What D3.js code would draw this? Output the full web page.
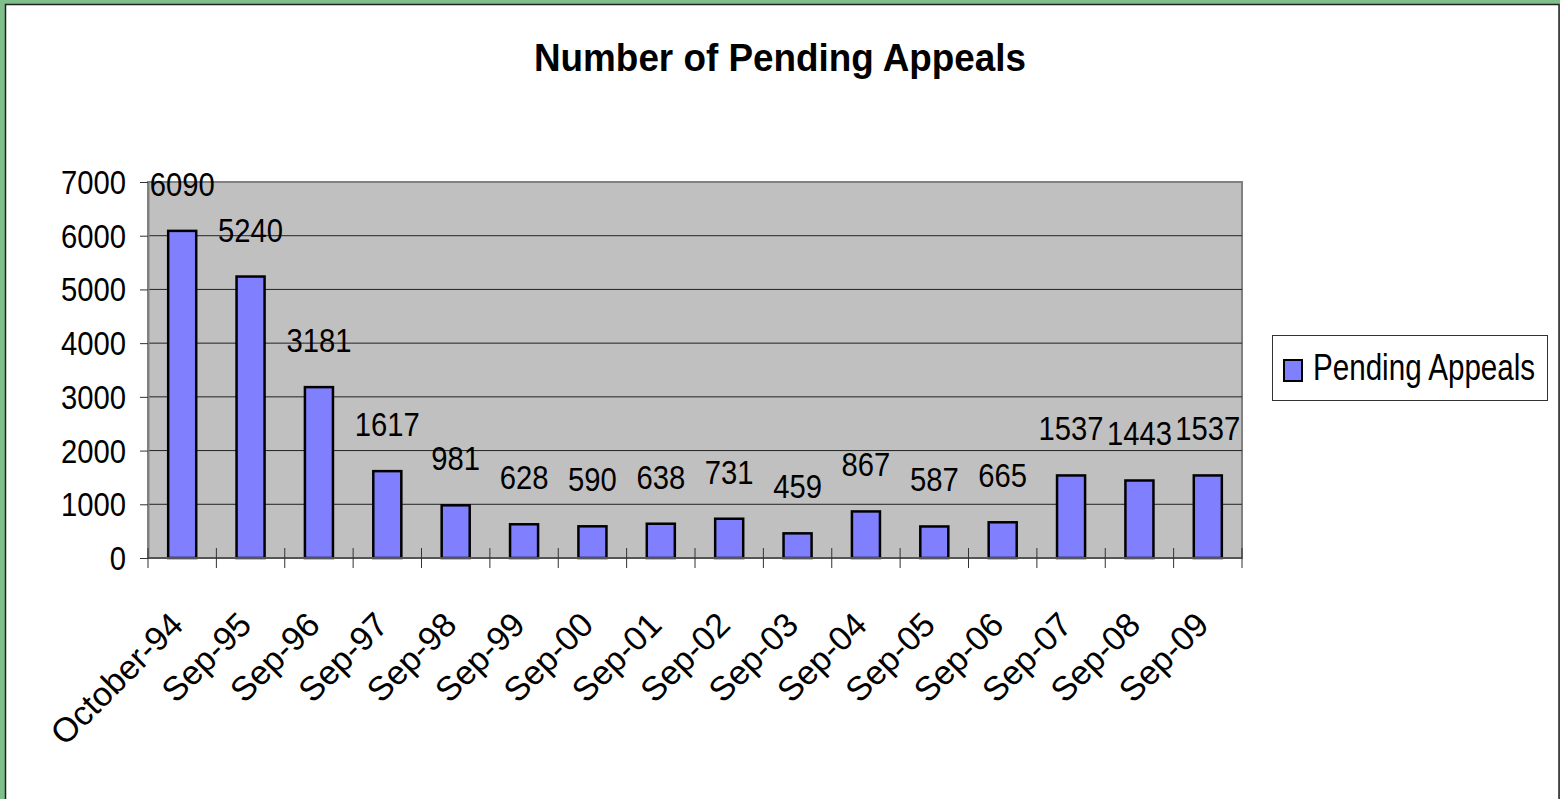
<!DOCTYPE html>
<html>
<head>
<meta charset="utf-8">
<script src="https://cdn.jsdelivr.net/npm/d3@7"></script>
<style>
  body { margin: 0; background: #fff; }
  svg { display: block; }
  text { font-family: "Liberation Sans", Arial, sans-serif; fill: #000; }
</style>
</head>
<body>
<div id="chart"></div>
<script>
// data
let categories = ["October-94", "Sep-95", "Sep-96", "Sep-97", "Sep-98", "Sep-99", "Sep-00", "Sep-01",
    "Sep-02", "Sep-03", "Sep-04", "Sep-05", "Sep-06", "Sep-07", "Sep-08", "Sep-09"];
let pending = [6090, 5240, 3181, 1617, 981, 628, 590, 638, 731, 459, 867, 587, 665, 1537, 1443, 1537];
let yTicks = [0, 1000, 2000, 3000, 4000, 5000, 6000, 7000];
let seriesName = "Pending Appeals";
let chartTitle = "Number of Pending Appeals";

let W = 1560, H = 799;
let plot = {left: 148, right: 1242, top: 182, bottom: 558};
let squeeze = 0.86;   // the text in the picture is a bit narrow

let svg = d3.select("#chart").append("svg")
    .attr("width", W)
    .attr("height", H);

// green frame + white chart area
svg.append("rect").attr("x", 0).attr("y", 0).attr("width", W).attr("height", H).attr("fill", "#7fbf8c");
svg.append("rect")
    .attr("x", 5.5).attr("y", 4.5)
    .attr("width", 1553.5).attr("height", H + 20)
    .attr("fill", "#fff")
    .attr("stroke", "#222")
    .attr("stroke-width", 1.5);

// squeezed text helper
function label(g, x, y, txt, anchor, size, sx, weight) {
    return g.append("text")
        .attr("transform", "translate(" + x + "," + y + ") scale(" + sx + ",1)")
        .attr("text-anchor", anchor)
        .style("font-size", size + "px")
        .style("font-weight", weight || "normal")
        .text(txt);
}

label(svg, 780, 70.5, chartTitle, "middle", 38, 0.97, "bold");

let x = d3.scaleBand()
    .domain(categories)
    .range([plot.left, plot.right])
    .paddingInner(0.59)
    .paddingOuter(0.295);

let y = d3.scaleLinear()
    .domain([0, 7000])
    .range([plot.bottom, plot.top]);

// plot area
svg.append("rect")
    .attr("x", plot.left).attr("y", plot.top)
    .attr("width", plot.right - plot.left).attr("height", plot.bottom - plot.top)
    .attr("fill", "#c0c0c0")
    .attr("stroke", "#808080")
    .attr("stroke-width", 2);

// gridlines
svg.append("g").selectAll("line")
    .data(yTicks.filter(d => d > 0 && d < 7000))
    .enter().append("line")
    .attr("x1", plot.left).attr("x2", plot.right)
    .attr("y1", d => y(d)).attr("y2", d => y(d))
    .attr("stroke", "#222")
    .attr("stroke-width", 1);

// y axis
let yAxis = svg.append("g")
    .attr("transform", "translate(" + plot.left + ",0)")
    .call(d3.axisLeft(y).tickValues(yTicks).tickSize(8).tickSizeOuter(0).tickFormat(""));
yAxis.select(".domain").attr("stroke", "#808080").attr("stroke-width", 2);
yAxis.selectAll(".tick line").attr("stroke", "#333");

let yLabels = svg.append("g");
yTicks.forEach(function (t) {
    label(yLabels, 126, y(t) + 12, t, "end", 34, squeeze);
});

// bars
svg.append("g").selectAll("rect")
    .data(pending)
    .enter().append("rect")
    .attr("x", (d, i) => x(categories[i]))
    .attr("y", d => y(d))
    .attr("width", x.bandwidth())
    .attr("height", d => y(0) - y(d))
    .attr("fill", "#8080ff")
    .attr("stroke", "#000")
    .attr("stroke-width", 2.5);

// x axis line and ticks at category boundaries
svg.append("line")
    .attr("x1", plot.left).attr("x2", plot.right)
    .attr("y1", plot.bottom).attr("y2", plot.bottom)
    .attr("stroke", "#555")
    .attr("stroke-width", 2);

let gap = (x.step() - x.bandwidth()) / 2;
let bounds = categories.map(c => x(c) - gap).concat([plot.right]);
svg.append("g").selectAll("line")
    .data(bounds)
    .enter().append("line")
    .attr("x1", d => d).attr("x2", d => d)
    .attr("y1", plot.bottom - 10).attr("y2", plot.bottom + 10)
    .attr("stroke", "#333")
    .attr("stroke-width", 1);

// rotated category labels
svg.append("g").selectAll("text")
    .data(categories)
    .enter().append("text")
    .attr("transform", d => "translate(" + (x(d) + x.bandwidth() / 2 - 14) + "," + (plot.bottom + 52) + ") rotate(-45)")
    .attr("text-anchor", "end")
    .attr("dy", "0.7em")
    .style("font-size", "34px")
    .text(d => d);

// value labels
let vals = svg.append("g");
pending.forEach(function (v, i) {
    label(vals, x(categories[i]) + x.bandwidth() / 2, y(v) - 35, v, "middle", 34, squeeze);
});

// legend
let lg = svg.append("g");
lg.append("rect")
    .attr("x", 1272.5).attr("y", 335.5)
    .attr("width", 275).attr("height", 65)
    .attr("fill", "#fff")
    .attr("stroke", "#333")
    .attr("stroke-width", 1);
lg.append("rect")
    .attr("x", 1284).attr("y", 360)
    .attr("width", 18).attr("height", 21)
    .attr("fill", "#8080ff")
    .attr("stroke", "#000")
    .attr("stroke-width", 2);
label(lg, 1313, 380, seriesName, "start", 37, 0.8);
</script>
</body>
</html>
